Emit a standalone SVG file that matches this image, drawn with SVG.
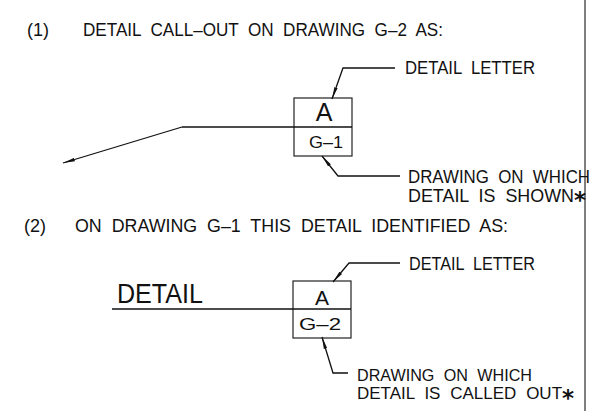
<svg xmlns="http://www.w3.org/2000/svg" width="605" height="412" viewBox="0 0 605 412">
  <style>
    text { font-family: "Liberation Sans", Arial, sans-serif; fill: #111; }
    .t { font-size: 18px; word-spacing: 5px; }
    .s { font-size: 16.5px; word-spacing: 5px; }
    .big { font-size: 25px; }
    .ast { font-family: "DejaVu Sans", sans-serif; font-size: 23px; font-weight: bold; }
    .ln { stroke: #111; stroke-width: 1.3; fill: none; }
    .box { stroke: #222; stroke-width: 1.2; fill: #fff; }
  </style>
  <defs>
    <marker id="arr" viewBox="0 0 12 4" refX="12" refY="2" markerWidth="12" markerHeight="4" markerUnits="userSpaceOnUse" orient="auto">
      <path d="M0,0.3 L12,2 L0,3.7 Z" fill="#111"/>
    </marker>
  </defs>

  <rect width="605" height="412" fill="#fff"/>

  <!-- sheet border on the right -->
  <line x1="585" y1="0" x2="585" y2="411" stroke="#555" stroke-width="1.5"/>

  <!-- (1) heading -->
  <g id="heading1">
    <text class="t" x="27" y="36" textLength="22" lengthAdjust="spacingAndGlyphs">(1)</text>
    <text class="t" x="83" y="36" textLength="360" lengthAdjust="spacingAndGlyphs">DETAIL CALL–OUT ON DRAWING G–2 AS:</text>
  </g>

  <!-- (1) call-out symbol -->
  <g id="callout1">
    <rect class="box" x="294" y="98" width="58" height="58"/>
    <line class="ln" x1="294" y1="127" x2="352" y2="127"/>
    <text class="big" x="324" y="121" text-anchor="middle">A</text>
    <text class="t" x="309" y="148" textLength="34" lengthAdjust="spacingAndGlyphs" style="font-size:17px">G–1</text>
  </g>

  <g id="label1-letter">
    <text class="t" x="405" y="74" textLength="130" lengthAdjust="spacingAndGlyphs">DETAIL LETTER</text>
  </g>
  <g id="label1-drawing">
    <text class="t"><tspan x="408" y="183" textLength="182" lengthAdjust="spacingAndGlyphs">DRAWING ON WHICH</tspan><tspan x="408" y="201.5" textLength="166" lengthAdjust="spacingAndGlyphs">DETAIL IS SHOWN</tspan><tspan class="ast" x="574" y="208">*</tspan></text>
  </g>

  <!-- (2) heading -->
  <g id="heading2">
    <text class="t" x="24" y="232" textLength="22" lengthAdjust="spacingAndGlyphs">(2)</text>
    <text class="t" x="75" y="232" textLength="433" lengthAdjust="spacingAndGlyphs">ON DRAWING G–1 THIS DETAIL IDENTIFIED AS:</text>
  </g>

  <!-- (2) detail title symbol -->
  <g id="title2">
    <text x="117" y="303" font-size="27" textLength="86" lengthAdjust="spacingAndGlyphs">DETAIL</text>
    <rect class="box" x="293" y="281" width="58" height="57"/>
    <line class="ln" x1="293" y1="309" x2="351" y2="309"/>
    <text x="322" y="305" font-size="21" text-anchor="middle">A</text>
    <text class="t" x="299" y="330" textLength="42" lengthAdjust="spacingAndGlyphs" style="font-size:16px">G–2</text>
  </g>

  <g id="label2-letter">
    <text class="t" x="409" y="270" textLength="126" lengthAdjust="spacingAndGlyphs">DETAIL LETTER</text>
  </g>
  <g id="label2-drawing">
    <text class="s"><tspan x="357" y="380.5" textLength="175" lengthAdjust="spacingAndGlyphs">DRAWING ON WHICH</tspan><tspan x="357" y="399" textLength="205" lengthAdjust="spacingAndGlyphs">DETAIL IS CALLED OUT</tspan><tspan class="ast" x="562" y="405.5">*</tspan></text>
  </g>

  <!-- leaders and reference lines -->
  <g id="connectors">
    <polyline class="ln" points="182,127 294,127"/>
    <line class="ln" x1="182" y1="127" x2="63" y2="163" marker-end="url(#arr)"/>
    <polyline class="ln" points="395,68 343,68 332,99" marker-end="url(#arr)"/>
    <polyline class="ln" points="400,176 338,176 322,156" marker-end="url(#arr)"/>
    <line class="ln" x1="112" y1="309" x2="293" y2="309"/>
    <polyline class="ln" points="400,263 349,263 333,282" marker-end="url(#arr)"/>
    <polyline class="ln" points="348,373 333,373 322,337" marker-end="url(#arr)"/>
  </g>
</svg>
